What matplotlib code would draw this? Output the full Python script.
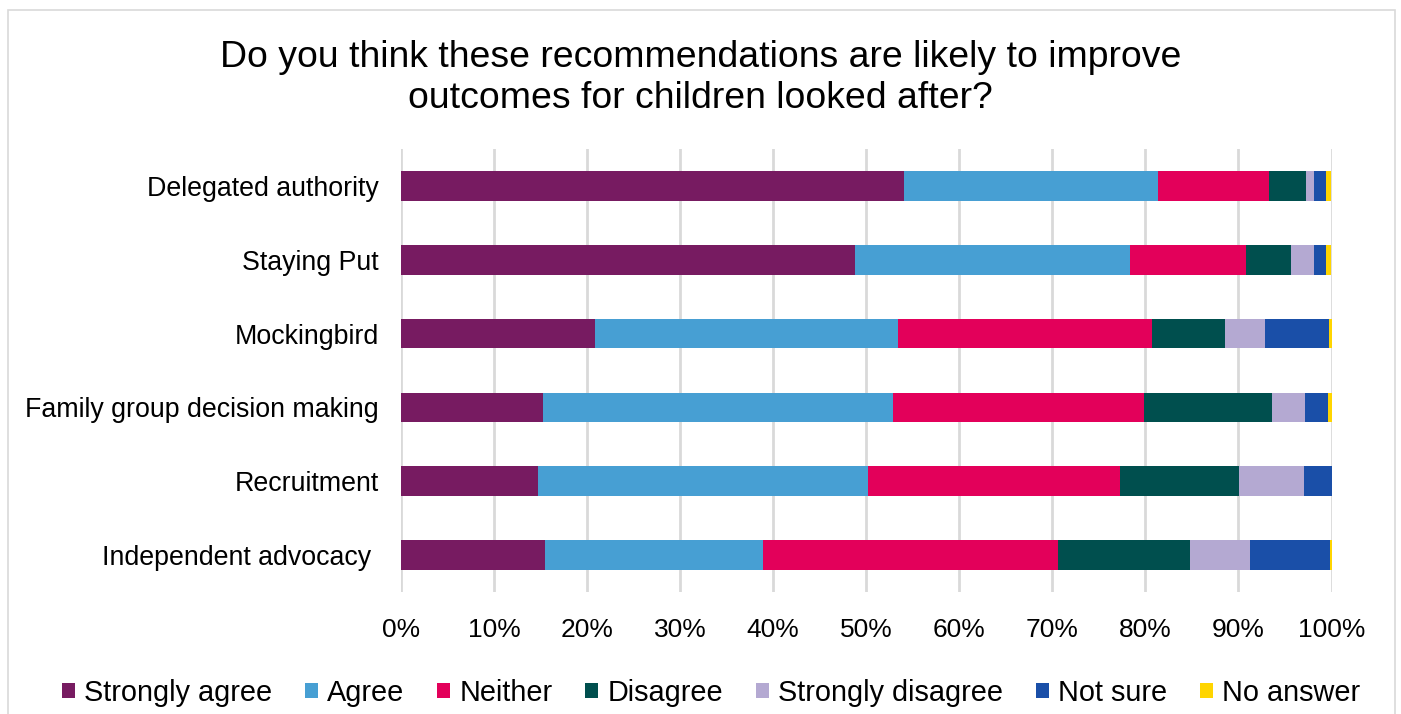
import numpy as np
import matplotlib.pyplot as plt
from matplotlib.patches import Patch, Rectangle

plt.rcParams['font.family'] = ['Liberation Sans', 'DejaVu Sans']

categories = ["Delegated authority", "Staying Put", "Mockingbird",
              "Family group decision making", "Recruitment", "Independent advocacy "]
responses = ["Strongly agree", "Agree", "Neither", "Disagree",
             "Strongly disagree", "Not sure", "No answer"]
strongly_agree = [54.1, 48.8, 20.9, 15.3, 14.7, 15.5]
agree = [27.3, 29.5, 32.5, 37.6, 35.5, 23.4]
neither = [11.9, 12.5, 27.3, 26.9, 27.1, 31.7]
disagree = [4.0, 4.9, 7.9, 13.8, 12.8, 14.2]
strongly_disagree = [0.8, 2.4, 4.2, 3.5, 6.9, 6.4]
not_sure = [1.3, 1.3, 6.9, 2.5, 3.0, 8.6]
no_answer = [0.6, 0.6, 0.3, 0.4, 0.0, 0.2]

colors = ['#771B61', '#479FD3', '#E3005A', '#004F4E', '#B4A9D2', '#1A4FA8', '#FFD500']
series = [strongly_agree, agree, neither, disagree, strongly_disagree, not_sure, no_answer]

fig = plt.figure(figsize=(14.01, 7.14), dpi=100)
ax = fig.add_axes([401/1401, 1-592/714, (1331.5-401)/1401, (592-149)/714])

y = np.arange(len(categories))
left = np.zeros(len(categories))
for vals, col in zip(series, colors):
    ax.barh(y, vals, left=left, height=0.4, color=col, zorder=3)
    left += np.array(vals)

ax.set_ylim(len(categories)-0.5, -0.5)
ax.set_xlim(0, 100)
ax.set_xticks(np.arange(0, 101, 10))
ax.set_xticklabels([f"{v}%" for v in range(0, 101, 10)], fontsize=19)
ax.set_yticks(y)
ax.set_yticklabels(categories, fontsize=19.3)
ax.tick_params(axis='x', length=0, pad=19)
ax.tick_params(axis='y', length=0, pad=16)
ax.grid(axis='x', color='#d9d9d9', linewidth=2, zorder=0)
for s in ax.spines.values():
    s.set_visible(False)

fig.text(0.5, 1-78/714, "Do you think these recommendations are likely to improve\noutcomes for children looked after?",
         ha='center', va='center', fontsize=26.9, linespacing=1.2)

handles = [Patch(facecolor=c, label=r) for c, r in zip(colors, responses)]
fig.legend(handles=handles, loc='center', bbox_to_anchor=(711/1401, 1-693/714), ncol=7,
           frameon=False, fontsize=20.8, handlelength=0.45, handleheight=0.45,
           handletextpad=0.3, columnspacing=1.15, borderpad=0, borderaxespad=0)

fig.patches.append(Rectangle((8/1401, -0.1), (1395-8)/1401, 1.1-10/714, transform=fig.transFigure,
                             fill=False, edgecolor='#d9d9d9', linewidth=1.2))

plt.savefig("out.png", dpi=100)
